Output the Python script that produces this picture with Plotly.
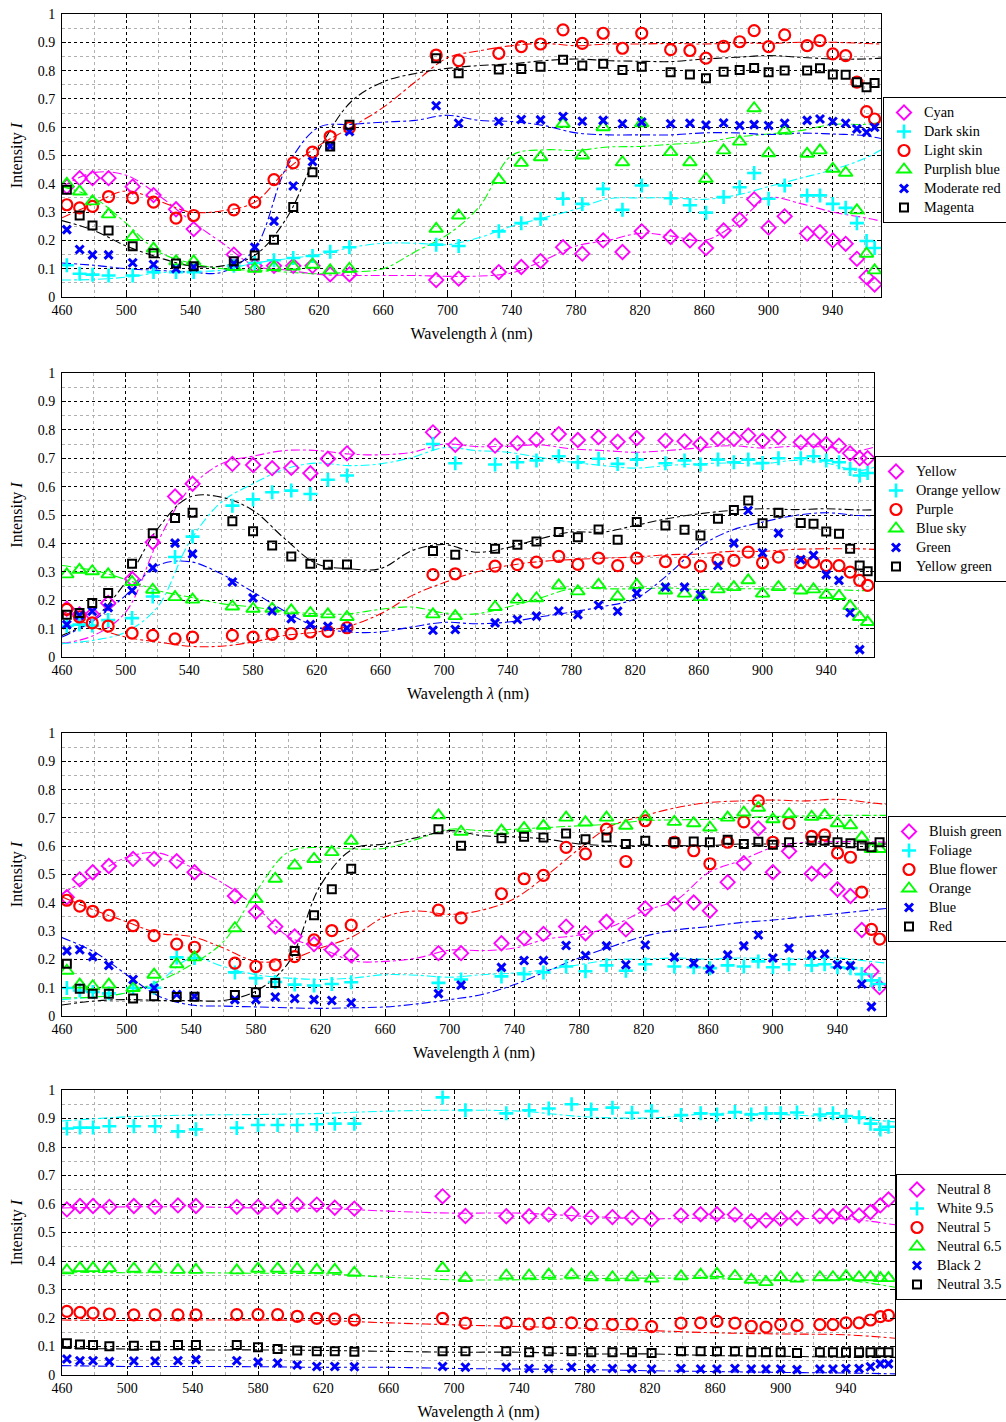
import plotly.graph_objects as go

# ---------------- data ----------------
WL = [463, 471, 479, 489, 504, 517, 531, 542, 567, 580, 592, 604, 616, 627, 639,
      693, 707, 732, 746, 758, 772, 784, 797, 809, 821, 839, 851, 861, 872, 882,
      891, 900, 910, 924, 932, 940, 948, 955, 961, 966]

FIT_WL = [460, 480, 500, 520, 540, 560, 580, 600, 620, 640, 660, 680, 700, 720,
          740, 760, 780, 800, 820, 840, 860, 880, 900, 920, 940, 960, 970]
FIT4_WL = [460, 500, 540, 580, 620, 660, 700, 740, 780, 820, 860, 900, 940, 970]

X_TICKS = [460, 500, 540, 580, 620, 660, 700, 740, 780, 820, 860, 900, 940]
Y_TICKS = [0, 0.1, 0.2, 0.3, 0.4, 0.5, 0.6, 0.7, 0.8, 0.9, 1]
Y_TICK_TEXT = ["0", "0.1", "0.2", "0.3", "0.4", "0.5", "0.6", "0.7", "0.8", "0.9", "1"]

# Panel 1
P1_NAMES = ["Cyan", "Dark skin", "Light skin", "Purplish blue", "Moderate red", "Magenta"]
P1_CYAN = [0.39, 0.42, 0.42, 0.42, 0.39, 0.36, 0.31, 0.24, 0.15, 0.11, 0.11, 0.11, 0.11, 0.08, 0.08,
           0.06, 0.065, 0.088, 0.106, 0.127, 0.176, 0.153, 0.2, 0.159, 0.232, 0.212, 0.2, 0.173, 0.235, 0.273,
           0.345, 0.245, 0.285, 0.224, 0.229, 0.2, 0.188, 0.135, 0.07, 0.044]
P1_DARK = [0.112, 0.082, 0.079, 0.076, 0.076, 0.088, 0.088, 0.088, 0.11, 0.12, 0.13, 0.138, 0.145, 0.16, 0.176,
           0.185, 0.18, 0.232, 0.261, 0.276, 0.347, 0.329, 0.382, 0.308, 0.394, 0.349, 0.324, 0.298, 0.353, 0.388,
           0.438, 0.347, 0.394, 0.359, 0.359, 0.329, 0.315, 0.261, 0.198, 0.173]
P1_LIGHT = [0.326, 0.315, 0.32, 0.355, 0.35, 0.335, 0.279, 0.288, 0.308, 0.335, 0.415, 0.474, 0.512, 0.567, 0.598,
            0.855, 0.835, 0.861, 0.885, 0.894, 0.944, 0.896, 0.932, 0.879, 0.932, 0.874, 0.871, 0.844, 0.886, 0.902,
            0.941, 0.885, 0.926, 0.888, 0.906, 0.859, 0.853, 0.759, 0.655, 0.629]
P1_PURP = [0.4, 0.373, 0.338, 0.292, 0.212, 0.171, 0.126, 0.126, 0.106, 0.1, 0.106, 0.108, 0.114, 0.094, 0.1,
           0.241, 0.288, 0.414, 0.474, 0.494, 0.612, 0.5, 0.6, 0.476, 0.614, 0.512, 0.476, 0.418, 0.518, 0.549,
           0.667, 0.508, 0.588, 0.506, 0.518, 0.453, 0.439, 0.306, 0.153, 0.094]
P1_MODRED = [0.238, 0.168, 0.149, 0.149, 0.121, 0.115, 0.1, 0.106, 0.118, 0.176, 0.268, 0.392, 0.479, 0.533, 0.585,
             0.676, 0.614, 0.62, 0.627, 0.626, 0.638, 0.621, 0.624, 0.612, 0.618, 0.612, 0.614, 0.608, 0.615, 0.606,
             0.609, 0.606, 0.614, 0.624, 0.629, 0.62, 0.614, 0.594, 0.582, 0.6]
P1_MAG = [0.379, 0.288, 0.253, 0.235, 0.179, 0.155, 0.118, 0.109, 0.126, 0.147, 0.202, 0.318, 0.441, 0.532, 0.609,
          0.844, 0.791, 0.804, 0.806, 0.814, 0.838, 0.818, 0.824, 0.802, 0.814, 0.794, 0.786, 0.773, 0.796, 0.802,
          0.809, 0.794, 0.8, 0.8, 0.808, 0.786, 0.785, 0.759, 0.741, 0.756]
P1_CYAN_FIT = [0.39, 0.44, 0.43, 0.36, 0.27, 0.19, 0.11, 0.095, 0.08, 0.076, 0.076, 0.076, 0.073, 0.074,
               0.085, 0.13, 0.18, 0.2, 0.225, 0.215, 0.2, 0.26, 0.35, 0.33, 0.3, 0.28, 0.268]
P1_DARK_FIT = [0.06, 0.062, 0.07, 0.085, 0.09, 0.095, 0.12, 0.135, 0.15, 0.175, 0.19, 0.19, 0.185, 0.21,
               0.25, 0.28, 0.31, 0.347, 0.35, 0.35, 0.345, 0.36, 0.39, 0.42, 0.45, 0.49, 0.52]
P1_LIGHT_FIT = [0.28, 0.33, 0.375, 0.34, 0.3, 0.305, 0.335, 0.45, 0.535, 0.6, 0.67, 0.76, 0.845, 0.87,
                0.888, 0.896, 0.888, 0.894, 0.894, 0.896, 0.894, 0.898, 0.896, 0.9, 0.9, 0.896, 0.894]
P1_PURP_FIT = [0.39, 0.35, 0.26, 0.16, 0.12, 0.1, 0.094, 0.088, 0.082, 0.088, 0.1, 0.16, 0.22, 0.32,
               0.5, 0.52, 0.518, 0.53, 0.532, 0.54, 0.547, 0.565, 0.576, 0.588, 0.61, 0.61, 0.618]
P1_MODRED_FIT = [0.12, 0.112, 0.1, 0.094, 0.088, 0.088, 0.17, 0.46, 0.6, 0.61, 0.618, 0.624, 0.642, 0.624,
                 0.62, 0.606, 0.58, 0.573, 0.573, 0.573, 0.58, 0.58, 0.574, 0.579, 0.576, 0.57, 0.56]
P1_MAG_FIT = [0.27, 0.235, 0.18, 0.14, 0.11, 0.11, 0.147, 0.28, 0.52, 0.69, 0.76, 0.79, 0.808, 0.818,
              0.824, 0.835, 0.841, 0.835, 0.833, 0.832, 0.841, 0.847, 0.853, 0.847, 0.841, 0.841, 0.844]

# Panel 2
P2_NAMES = ["Yellow", "Orange yellow", "Purple", "Blue sky", "Green", "Yellow green"]
P2_YELLOW = [0.17, 0.15, 0.15, 0.19, 0.275, 0.404, 0.565, 0.61, 0.68, 0.676, 0.665, 0.666, 0.647, 0.698, 0.717,
             0.791, 0.747, 0.744, 0.753, 0.766, 0.785, 0.764, 0.774, 0.758, 0.771, 0.762, 0.76, 0.75, 0.768, 0.768,
             0.78, 0.762, 0.774, 0.756, 0.762, 0.75, 0.744, 0.717, 0.7, 0.7]
P2_ORANGEY = [0.11, 0.114, 0.111, 0.13, 0.137, 0.213, 0.352, 0.424, 0.533, 0.555, 0.58, 0.586, 0.574, 0.624, 0.639,
              0.75, 0.682, 0.678, 0.686, 0.692, 0.707, 0.686, 0.698, 0.68, 0.695, 0.682, 0.692, 0.678, 0.695, 0.686,
              0.695, 0.683, 0.7, 0.7, 0.707, 0.692, 0.686, 0.662, 0.639, 0.648]
P2_PURPLE = [0.168, 0.141, 0.12, 0.109, 0.084, 0.076, 0.064, 0.07, 0.076, 0.07, 0.08, 0.082, 0.088, 0.09, 0.103,
             0.29, 0.293, 0.32, 0.325, 0.334, 0.354, 0.326, 0.348, 0.322, 0.348, 0.336, 0.334, 0.32, 0.342, 0.34,
             0.369, 0.332, 0.352, 0.332, 0.334, 0.322, 0.322, 0.299, 0.27, 0.252]
P2_BLUESKY = [0.291, 0.307, 0.302, 0.291, 0.264, 0.237, 0.211, 0.202, 0.178, 0.17, 0.17, 0.164, 0.155, 0.15, 0.141,
              0.15, 0.144, 0.176, 0.202, 0.207, 0.252, 0.231, 0.254, 0.213, 0.254, 0.234, 0.223, 0.211, 0.238, 0.246,
              0.27, 0.223, 0.246, 0.234, 0.238, 0.219, 0.215, 0.179, 0.141, 0.123]
P2_GREEN = [0.114, 0.147, 0.161, 0.174, 0.234, 0.314, 0.401, 0.363, 0.264, 0.208, 0.162, 0.135, 0.114, 0.108, 0.102,
            0.094, 0.097, 0.12, 0.132, 0.144, 0.162, 0.149, 0.182, 0.161, 0.225, 0.246, 0.246, 0.219, 0.322, 0.401,
            0.516, 0.367, 0.436, 0.343, 0.358, 0.29, 0.27, 0.156, 0.026, None]
P2_YGREEN = [0.149, 0.155, 0.19, 0.225, 0.328, 0.436, 0.489, 0.508, 0.478, 0.443, 0.393, 0.354, 0.328, 0.325, 0.326,
             0.373, 0.36, 0.381, 0.395, 0.407, 0.44, 0.422, 0.449, 0.413, 0.475, 0.463, 0.448, 0.428, 0.487, 0.518,
             0.551, 0.471, 0.508, 0.472, 0.469, 0.442, 0.434, 0.381, 0.322, 0.302]
P2_YELLOW_FIT = [0.047, 0.076, 0.158, 0.404, 0.592, 0.68, 0.707, 0.727, 0.727, 0.715, 0.712, 0.721, 0.75, 0.741,
                 0.742, 0.747, 0.733, 0.727, 0.721, 0.727, 0.736, 0.744, 0.736, 0.742, 0.739, 0.727, 0.739]
P2_ORANGEY_FIT = [0.047, 0.059, 0.088, 0.176, 0.404, 0.545, 0.61, 0.662, 0.683, 0.674, 0.68, 0.703, 0.737, 0.727,
                  0.721, 0.703, 0.686, 0.674, 0.665, 0.674, 0.68, 0.683, 0.68, 0.692, 0.683, 0.656, 0.668]
P2_PURPLE_FIT = [0.164, 0.106, 0.07, 0.053, 0.038, 0.038, 0.053, 0.076, 0.088, 0.108, 0.152, 0.217, 0.262, 0.299,
                 0.322, 0.336, 0.343, 0.348, 0.352, 0.36, 0.363, 0.372, 0.372, 0.379, 0.381, 0.381, 0.379]
P2_BLUESKY_FIT = [0.322, 0.305, 0.273, 0.234, 0.211, 0.188, 0.176, 0.161, 0.152, 0.152, 0.168, 0.176, 0.155, 0.152,
                  0.176, 0.207, 0.24, 0.24, 0.24, 0.243, 0.238, 0.24, 0.24, 0.24, 0.238, 0.234, 0.234]
P2_GREEN_FIT = [0.07, 0.129, 0.217, 0.322, 0.336, 0.293, 0.229, 0.161, 0.106, 0.088, 0.088, 0.106, 0.122, 0.117,
                0.123, 0.141, 0.158, 0.178, 0.205, 0.287, 0.387, 0.445, 0.475, 0.498, 0.508, 0.498, 0.498]
P2_YGREEN_FIT = [0.076, 0.135, 0.264, 0.451, 0.563, 0.563, 0.516, 0.416, 0.328, 0.311, 0.311, 0.375, 0.396, 0.369,
                 0.385, 0.416, 0.44, 0.44, 0.463, 0.487, 0.504, 0.516, 0.522, 0.519, 0.522, 0.518, 0.518]

# Panel 3
P3_NAMES = ["Bluish green", "Foliage", "Blue flower", "Orange", "Blue", "Red"]
P3_BLUISH = [0.42, 0.483, 0.508, 0.53, 0.555, 0.555, 0.547, 0.508, 0.424, 0.368, 0.316, 0.281, 0.254, 0.234, 0.214,
             0.222, 0.222, 0.257, 0.275, 0.29, 0.316, 0.292, 0.333, 0.306, 0.38, 0.397, 0.401, 0.372, 0.473, 0.54,
             0.663, 0.508, 0.582, 0.503, 0.514, 0.448, 0.424, 0.304, 0.158, 0.102]
P3_FOLIAGE = [0.099, 0.09, 0.085, 0.08, 0.099, 0.1, 0.207, 0.205, 0.154, 0.134, 0.12, 0.111, 0.108, 0.113, 0.119,
              0.117, 0.129, 0.14, 0.148, 0.154, 0.175, 0.158, 0.179, 0.16, 0.183, 0.175, 0.172, 0.169, 0.179, 0.175,
              0.193, 0.172, 0.183, 0.179, 0.183, 0.172, 0.169, 0.148, 0.126, 0.113]
P3_BFLOWER = [0.409, 0.388, 0.37, 0.356, 0.319, 0.284, 0.254, 0.243, 0.187, 0.175, 0.181, 0.21, 0.269, 0.302, 0.321,
              0.374, 0.347, 0.432, 0.485, 0.497, 0.596, 0.573, 0.66, 0.546, 0.69, 0.614, 0.584, 0.538, 0.614, 0.686,
              0.76, 0.614, 0.681, 0.635, 0.64, 0.576, 0.561, 0.438, 0.306, 0.272]
P3_ORANGE = [0.16, 0.111, 0.105, 0.111, 0.099, 0.146, 0.183, 0.207, 0.31, 0.413, 0.485, 0.532, 0.555, 0.579, 0.619,
             0.709, 0.651, 0.655, 0.664, 0.672, 0.701, 0.684, 0.701, 0.672, 0.705, 0.686, 0.681, 0.666, 0.701, 0.719,
             0.736, 0.695, 0.713, 0.704, 0.709, 0.681, 0.674, 0.631, 0.59, 0.59]
P3_BLUE = [0.23, 0.234, 0.21, 0.179, 0.129, 0.099, 0.076, 0.07, 0.058, 0.058, 0.067, 0.062, 0.058, 0.055, 0.047,
           0.079, 0.109, 0.172, 0.196, 0.196, 0.249, 0.214, 0.248, 0.181, 0.251, 0.208, 0.187, 0.166, 0.216, 0.248,
           0.286, 0.205, 0.24, 0.216, 0.219, 0.181, 0.178, 0.113, 0.033, None]
P3_RED = [0.185, 0.096, 0.079, 0.079, 0.062, 0.07, 0.067, 0.068, 0.074, 0.084, 0.117, 0.23, 0.356, 0.448, 0.52,
          0.66, 0.602, 0.628, 0.633, 0.631, 0.645, 0.625, 0.631, 0.608, 0.619, 0.614, 0.617, 0.614, 0.623, 0.608,
          0.616, 0.605, 0.614, 0.619, 0.619, 0.614, 0.61, 0.602, 0.596, 0.614]
P3_BLUISH_FIT = [0.432, 0.497, 0.561, 0.576, 0.526, 0.468, 0.386, 0.281, 0.24, 0.195, 0.193, 0.205, 0.233, 0.231,
                 0.24, 0.272, 0.286, 0.316, 0.371, 0.409, 0.506, 0.549, 0.596, 0.614, 0.616, 0.616, 0.614]
P3_FOLIAGE_FIT = [0.058, 0.067, 0.082, 0.123, 0.205, 0.175, 0.146, 0.134, 0.129, 0.134, 0.146, 0.144, 0.137, 0.146,
                  0.152, 0.164, 0.181, 0.199, 0.201, 0.205, 0.201, 0.205, 0.202, 0.202, 0.205, 0.193, 0.187]
P3_BFLOWER_FIT = [0.421, 0.374, 0.333, 0.292, 0.281, 0.24, 0.193, 0.199, 0.24, 0.281, 0.351, 0.371, 0.359, 0.374,
                  0.415, 0.497, 0.59, 0.672, 0.707, 0.736, 0.754, 0.76, 0.763, 0.76, 0.766, 0.754, 0.748]
P3_ORANGE_FIT = [0.064, 0.067, 0.082, 0.123, 0.181, 0.263, 0.438, 0.579, 0.596, 0.59, 0.593, 0.625, 0.66, 0.655,
                 0.66, 0.666, 0.672, 0.678, 0.69, 0.693, 0.695, 0.701, 0.705, 0.707, 0.709, 0.709, 0.709]
P3_BLUE_FIT = [0.277, 0.226, 0.146, 0.07, 0.039, 0.035, 0.032, 0.029, 0.027, 0.029, 0.032, 0.043, 0.058, 0.076,
               0.111, 0.158, 0.205, 0.245, 0.281, 0.304, 0.316, 0.33, 0.339, 0.351, 0.362, 0.374, 0.38]
P3_RED_FIT = [0.039, 0.053, 0.058, 0.055, 0.055, 0.055, 0.088, 0.187, 0.462, 0.59, 0.608, 0.631, 0.655, 0.637,
              0.633, 0.625, 0.608, 0.602, 0.602, 0.602, 0.602, 0.608, 0.608, 0.61, 0.61, 0.608, 0.608]

# Panel 4
P4_NAMES = ["Neutral 8", "White 9.5", "Neutral 5", "Neutral 6.5", "Black 2", "Neutral 3.5"]
P4_N8 = [0.581, 0.593, 0.593, 0.59, 0.593, 0.59, 0.595, 0.593, 0.59, 0.59, 0.59, 0.598, 0.598, 0.587, 0.584,
         0.627, 0.558, 0.557, 0.557, 0.563, 0.566, 0.554, 0.554, 0.552, 0.546, 0.56, 0.564, 0.564, 0.563, 0.54,
         0.543, 0.548, 0.551, 0.558, 0.557, 0.568, 0.56, 0.572, 0.595, 0.616]
P4_W95 = [0.865, 0.868, 0.868, 0.873, 0.873, 0.873, 0.855, 0.862, 0.867, 0.877, 0.877, 0.877, 0.88, 0.882, 0.882,
          0.974, 0.929, 0.918, 0.929, 0.935, 0.95, 0.932, 0.938, 0.92, 0.926, 0.912, 0.918, 0.914, 0.923, 0.914,
          0.918, 0.918, 0.921, 0.914, 0.918, 0.909, 0.904, 0.882, 0.861, 0.871]
P4_N5 = [0.223, 0.22, 0.217, 0.214, 0.211, 0.211, 0.211, 0.211, 0.212, 0.212, 0.212, 0.206, 0.199, 0.197, 0.193,
         0.199, 0.182, 0.183, 0.179, 0.182, 0.183, 0.177, 0.177, 0.179, 0.17, 0.182, 0.183, 0.188, 0.182, 0.171,
         0.168, 0.177, 0.173, 0.177, 0.177, 0.183, 0.183, 0.193, 0.205, 0.209]
P4_N65 = [0.367, 0.375, 0.375, 0.375, 0.373, 0.373, 0.369, 0.369, 0.367, 0.373, 0.373, 0.373, 0.369, 0.369, 0.359,
          0.375, 0.34, 0.349, 0.349, 0.352, 0.352, 0.343, 0.343, 0.343, 0.338, 0.346, 0.352, 0.355, 0.347, 0.334,
          0.326, 0.343, 0.338, 0.343, 0.343, 0.347, 0.343, 0.343, 0.34, 0.34]
P4_B2 = [0.056, 0.05, 0.05, 0.047, 0.049, 0.049, 0.05, 0.054, 0.05, 0.045, 0.042, 0.035, 0.03, 0.03, 0.029,
         0.03, 0.027, 0.027, 0.023, 0.023, 0.027, 0.023, 0.023, 0.023, 0.021, 0.023, 0.021, 0.021, 0.023, 0.021,
         0.021, 0.021, 0.019, 0.021, 0.021, 0.023, 0.023, 0.029, 0.039, 0.039]
P4_N35 = [0.111, 0.107, 0.105, 0.101, 0.103, 0.103, 0.105, 0.105, 0.105, 0.097, 0.091, 0.086, 0.083, 0.083, 0.082,
          0.083, 0.083, 0.083, 0.08, 0.083, 0.083, 0.08, 0.08, 0.08, 0.077, 0.083, 0.083, 0.083, 0.083, 0.08,
          0.08, 0.08, 0.077, 0.08, 0.08, 0.08, 0.08, 0.08, 0.08, 0.08]
P4_N8_FIT = [0.586, 0.59, 0.59, 0.586, 0.584, 0.575, 0.568, 0.568, 0.557, 0.548, 0.551, 0.548, 0.548, 0.527]
P4_W95_FIT = [0.891, 0.906, 0.912, 0.914, 0.918, 0.926, 0.929, 0.926, 0.906, 0.902, 0.918, 0.914, 0.902, 0.888]
P4_N5_FIT = [0.193, 0.191, 0.193, 0.193, 0.191, 0.183, 0.176, 0.17, 0.164, 0.156, 0.148, 0.144, 0.141, 0.129]
P4_N65_FIT = [0.361, 0.359, 0.359, 0.357, 0.355, 0.343, 0.334, 0.334, 0.338, 0.34, 0.338, 0.332, 0.332, 0.308]
P4_B2_FIT = [0.033, 0.03, 0.03, 0.029, 0.027, 0.027, 0.023, 0.021, 0.019, 0.015, 0.012, 0.009, 0.007, 0.004]
P4_N35_FIT = [0.094, 0.091, 0.088, 0.088, 0.086, 0.083, 0.08, 0.08, 0.074, 0.074, 0.068, 0.066, 0.062, 0.062]

# ---------------- styling ----------------
FONT = "Liberation Serif"
COLORS = ["#ff00ff", "#00ffff", "#ff0000", "#00ff00", "#0000ff", "#000000"]
SYMBOLS = ["diamond-open", "cross-thin-open", "circle-open", "triangle-up-open", "x-thin-open", "square-open"]
SIZES = [11, 10, 11, 12, 8, 8]
WIDTHS = [1.8, 2.6, 2.2, 1.9, 3.0, 2.0]

W, H = 1006, 1422
# pixel boxes of the four plot areas: (left, right, top, bottom)
BOXES = [(62, 881, 14, 297), (62, 874, 373, 657), (62, 886, 733, 1016), (62, 895, 1090, 1375)]
LEGEND_POS = [(883, 97), (875, 456), (888, 816), (896, 1174)]

PANELS = [
    (P1_NAMES, [P1_CYAN, P1_DARK, P1_LIGHT, P1_PURP, P1_MODRED, P1_MAG], FIT_WL,
     [P1_CYAN_FIT, P1_DARK_FIT, P1_LIGHT_FIT, P1_PURP_FIT, P1_MODRED_FIT, P1_MAG_FIT]),
    (P2_NAMES, [P2_YELLOW, P2_ORANGEY, P2_PURPLE, P2_BLUESKY, P2_GREEN, P2_YGREEN], FIT_WL,
     [P2_YELLOW_FIT, P2_ORANGEY_FIT, P2_PURPLE_FIT, P2_BLUESKY_FIT, P2_GREEN_FIT, P2_YGREEN_FIT]),
    (P3_NAMES, [P3_BLUISH, P3_FOLIAGE, P3_BFLOWER, P3_ORANGE, P3_BLUE, P3_RED], FIT_WL,
     [P3_BLUISH_FIT, P3_FOLIAGE_FIT, P3_BFLOWER_FIT, P3_ORANGE_FIT, P3_BLUE_FIT, P3_RED_FIT]),
    (P4_NAMES, [P4_N8, P4_W95, P4_N5, P4_N65, P4_B2, P4_N35], FIT4_WL,
     [P4_N8_FIT, P4_W95_FIT, P4_N5_FIT, P4_N65_FIT, P4_B2_FIT, P4_N35_FIT]),
]

fig = go.Figure()
layout = dict(
    width=W, height=H, margin=dict(l=0, r=0, t=0, b=0, autoexpand=False),
    paper_bgcolor="white", plot_bgcolor="white",
    font=dict(family=FONT, size=14, color="black"),
)

for p, (names, series, fit_wl, fits) in enumerate(PANELS):
    k = "" if p == 0 else str(p + 1)
    xa, ya = "x" + k, "y" + k
    leg = "legend" + k
    for i in range(6):
        assert len(series[i]) == len(WL), (p, i, len(series[i]))
        assert len(fits[i]) == len(fit_wl), (p, i, len(fits[i]))
        fig.add_trace(go.Scatter(
            x=fit_wl, y=fits[i], mode="lines", xaxis=xa, yaxis=ya,
            line=dict(color=COLORS[i], width=1.1, dash="dashdot", shape="spline", smoothing=1.0),
            showlegend=False, hoverinfo="skip"))
    for i in range(6):
        fig.add_trace(go.Scatter(
            x=WL, y=series[i], mode="markers", xaxis=xa, yaxis=ya, legend=leg,
            name='<span style="font-size:14.3px">' + names[i] + "</span>",
            marker=dict(symbol=SYMBOLS[i], size=SIZES[i], color=COLORS[i],
                        line=dict(color=COLORS[i], width=WIDTHS[i]))))

    l, r, t, b = BOXES[p]
    axcommon = dict(showline=True, linecolor="black", linewidth=1, mirror="ticks",
                    ticks="inside", ticklen=4, tickcolor="black", tickwidth=1, automargin=False,
                    showgrid=True, gridcolor="black", griddash="dot", gridwidth=1,
                    zeroline=False, tickfont=dict(family=FONT, size=14, color="black"))
    layout["xaxis" + k] = dict(
        axcommon, domain=[l / W, r / W], anchor=ya, range=[460, 970],
        tickmode="array", tickvals=X_TICKS, ticktext=[str(v) for v in X_TICKS],
        minor=dict(tickvals=[v + 20 for v in X_TICKS], showgrid=True, gridcolor="#b0b0b0",
                   griddash="dot", gridwidth=1, ticks=""),
        title=dict(text="Wavelength <i>λ</i> (nm)", font=dict(family=FONT, size=16), standoff=11))
    layout["yaxis" + k] = dict(
        axcommon, domain=[1 - b / H, 1 - t / H], anchor=xa, range=[0, 1],
        tickmode="array", tickvals=Y_TICKS, ticktext=Y_TICK_TEXT, ticklabelstandoff=3,
        minor=dict(tickvals=[v + 0.05 for v in Y_TICKS[:-1]], showgrid=True, gridcolor="#b0b0b0",
                   griddash="dot", gridwidth=1, ticks=""),
        title=dict(text="Intensity <i>I</i>", font=dict(family=FONT, size=16), standoff=11))
    lx, ly = LEGEND_POS[p]
    layout[leg] = dict(x=lx / W, y=1 - ly / H, xanchor="left", yanchor="top",
                       bgcolor="white", bordercolor="black", borderwidth=1,
                       font=dict(family=FONT, size=11, color="black"),
                       itemwidth=30, tracegroupgap=0)

fig.update_layout(**layout)
fig.write_html("out.html")
